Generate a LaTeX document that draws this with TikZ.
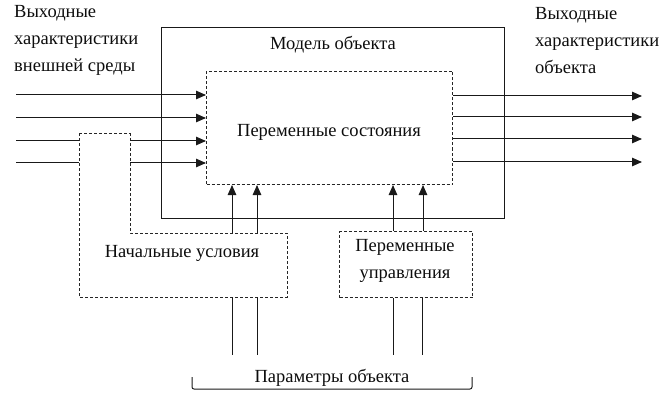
\documentclass[tikz,border=0pt]{standalone}
\usepackage{fontspec}
\setmainfont{Liberation Serif}
\usetikzlibrary{arrows.meta}
\begin{document}
\begin{tikzpicture}[x=1pt,y=-1pt,
  solidline/.style={line width=1pt, draw=black!90},
  dashline/.style={line width=1pt, draw=black!85, dash pattern=on 3pt off 2pt},
  arr/.style={solidline, -{Triangle[length=10pt,width=8.5pt]}},
  lbl/.style={font=\fontsize{18.5}{27}\selectfont, text=black!95, inner sep=0pt},
]
\useasboundingbox (0,0) rectangle (664,409);
% boxes
\node[solidline, draw, minimum width=343pt, minimum height=191pt, anchor=north west, inner sep=0pt] (model) at (161,27) {};
\node[dashline, draw, minimum width=246pt, minimum height=113pt, anchor=north west, inner sep=0pt] (inner) at (206,71) {};
\node[dashline, draw, minimum width=133pt, minimum height=66pt, anchor=north west, inner sep=0pt] (ctrl) at (339,231) {};
% initial conditions dashed shape
\coordinate (nuA) at (79,134);
\coordinate (nuB) at (130,134);
\coordinate (nuC) at (130,233);
\coordinate (nuD) at (287,233);
\coordinate (nuE) at (287,297);
\coordinate (nuF) at (79,297);
\draw[dashline] (nuA) -- (nuB) -- (nuC) -- (nuD) -- (nuE) -- (nuF) -- cycle;
% texts
\node[lbl, align=left, anchor=north west] (envtext) at (14,5) {Выходные\\характеристики\\внешней среды};
\node[lbl, align=left, anchor=north west] (objtext) at (535,7) {Выходные\\характеристики\\объекта};
\node[lbl] (modeltext) at (333,45) {Модель объекта};
\node[lbl] (statetext) at (329,132) {Переменные состояния};
\node[lbl] (nutext) at (182,253) {Начальные условия};
\node[lbl, align=center] (ctrltext) at (405,261) {Переменные\\управления};
\node[lbl] (paramtext) at (332,378) {Параметры объекта};
% left inputs
\coordinate (l1) at (16,95);
\coordinate (l2) at (16,118);
\coordinate (l3) at (16,141);
\coordinate (l4) at (16,163);
\draw[arr] (l1) -- (l1 -| inner.west);
\draw[arr] (l2) -- (l2 -| inner.west);
\draw[solidline] (l3) -- (l3 -| nuA);
\draw[solidline] (l4) -- (l4 -| nuA);
\draw[arr] (l3 -| nuB) -- (l3 -| inner.west);
\draw[arr] (l4 -| nuB) -- (l4 -| inner.west);
% right outputs
\coordinate (r1) at (642,96);
\coordinate (r2) at (642,117);
\coordinate (r3) at (642,139);
\coordinate (r4) at (642,162);
\draw[arr] (r1 -| inner.east) -- (r1);
\draw[arr] (r2 -| inner.east) -- (r2);
\draw[arr] (r3 -| inner.east) -- (r3);
\draw[arr] (r4 -| inner.east) -- (r4);
% upward arrows
\coordinate (u1) at (232,233);
\coordinate (u2) at (257,233);
\draw[arr] (u1) -- (u1 |- inner.south);
\draw[arr] (u2) -- (u2 |- inner.south);
\coordinate (u3) at (393,231);
\coordinate (u4) at (423,231);
\draw[arr] (u3 |- ctrl.north) -- (u3 |- inner.south);
\draw[arr] (u4 |- ctrl.north) -- (u4 |- inner.south);
% parameter lines
\coordinate (p1) at (232,355);
\coordinate (p2) at (257,355);
\coordinate (p3) at (393,355);
\coordinate (p4) at (422,355);
\draw[solidline] (p1 |- nuE) -- (p1);
\draw[solidline] (p2 |- nuE) -- (p2);
\draw[solidline] (p3 |- ctrl.south) -- (p3);
\draw[solidline] (p4 |- ctrl.south) -- (p4);
% bracket
\coordinate (b1) at (192,377);
\coordinate (b2) at (472,377);
\draw[solidline, rounded corners=2pt] (b1) -- (192,389) -- (472,389) -- (b2);
\end{tikzpicture}
\end{document}
